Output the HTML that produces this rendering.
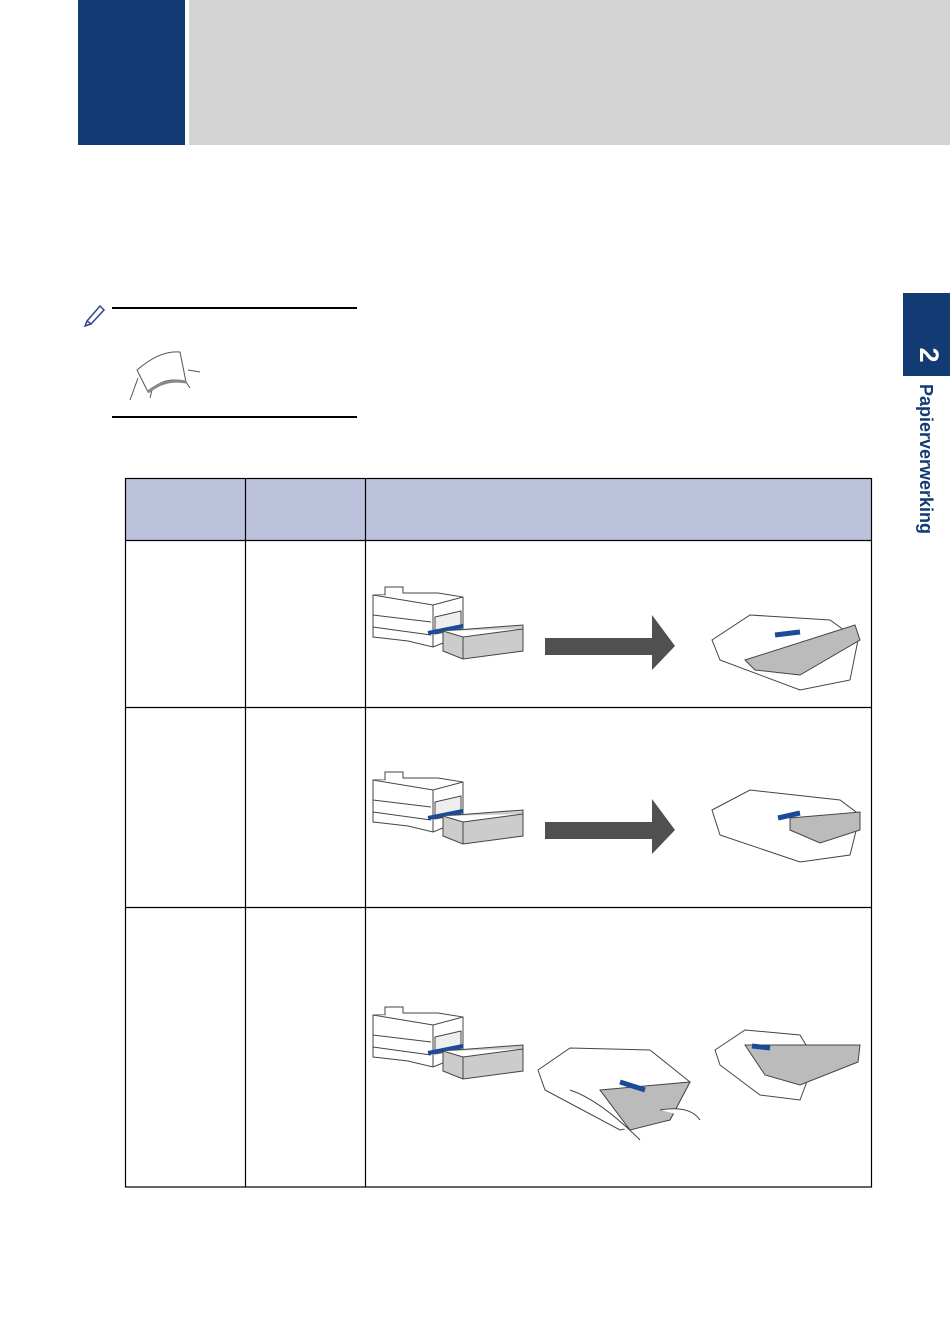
<!DOCTYPE html>
<html><head><meta charset="utf-8"><style>
html,body{margin:0;padding:0;background:#fff;}
body{width:950px;height:1341px;position:relative;overflow:hidden;font-family:"Liberation Sans",sans-serif;}
.abs{position:absolute;}
</style></head><body>
<div class="abs" style="left:78px;top:0;width:107px;height:145px;background:#123a73"></div>
<div class="abs" style="left:189px;top:0;width:761px;height:145px;background:#d4d4d4"></div>
<div class="abs" style="left:903px;top:293px;width:47px;height:83px;background:#123a73"></div>
<div class="abs" style="left:914px;top:340px;width:30px;height:30px;color:#fff;font-weight:bold;font-size:27px;line-height:30px;transform:rotate(90deg);text-align:center">2</div>
<div class="abs" style="left:846px;top:449px;width:160px;height:20px;color:#123a73;font-weight:bold;font-size:18px;line-height:20px;transform:rotate(90deg);transform-origin:center;text-align:center;white-space:nowrap">Papierverwerking</div>

<svg class="abs" style="left:0;top:0" width="950" height="1341" xmlns="http://www.w3.org/2000/svg">
<defs>
<g id="pr" fill="#fff" stroke="#444" stroke-width="1">
 <path d="M0,10 L12,10 L12,2 L30,2 L30,8 L65,8 L90,12 L90,50 L60,62 L35,56 L0,52 Z"/>
 <path d="M0,10 L60,20 L90,12 M60,20 L60,62 M0,30 L58,37 M0,42 L58,50"/>
 <path d="M62,32 L88,26 L88,44 L62,49 Z" fill="#eee"/>
 <path d="M55,48 L90,41" stroke="#1b4a9a" stroke-width="4"/>
 <path d="M70,46 L150,40 L150,66 L90,74 L70,66 Z" fill="#ccc"/>
 <path d="M70,46 L90,52 L150,44 M90,52 L90,74"/>
</g>
<g id="arr"><path d="M0,0 L107,0 L107,-23 L130,8 L107,32 L107,17 L0,17 Z" fill="#505050"/></g>
</defs>
<g fill="none" stroke="#000">
<line x1="112" y1="308" x2="357" y2="308" stroke-width="2"/>
<line x1="112" y1="417" x2="357" y2="417" stroke-width="2"/>
</g>
<path d="M87,321 L100,306 L104,310 L91,324 Z M87,321 L85,326 L91,324" fill="none" stroke="#34468a" stroke-width="1.5"/>
<path d="M137,370 Q160,350 180,352 L186,382 Q165,375 148,392 Z M130,400 L138,378 M150,398 L152,390 M188,370 L200,372 M186,382 L190,388" fill="#fff" stroke="#555" stroke-width="1"/>
<path d="M148,392 Q165,378 186,382" stroke="#888" stroke-width="3" fill="none"/>

<rect x="125" y="478" width="747" height="62" fill="#bcc2dc"/>
<g stroke="#000" stroke-width="1.2" fill="none">
<rect x="125.5" y="478.5" width="746" height="708.5"/>
<line x1="245.5" y1="478" x2="245.5" y2="1187"/>
<line x1="365.5" y1="478" x2="365.5" y2="1187"/>
<line x1="125" y1="540.5" x2="872" y2="540.5"/>
<line x1="125" y1="707.5" x2="872" y2="707.5"/>
<line x1="125" y1="907.5" x2="872" y2="907.5"/>
</g>

<use href="#pr" x="373" y="585"/>
<use href="#arr" x="545" y="638"/>
<g fill="#fff" stroke="#444">
<path d="M712,640 L750,615 L830,620 L858,640 L850,680 L800,690 L720,660 Z"/>
<path d="M745,660 L855,625 L860,640 L800,675 L755,670 Z" fill="#bbb"/>
<path d="M775,635 L800,632" stroke="#1b4a9a" stroke-width="5"/>
</g>

<use href="#pr" x="373" y="770"/>
<use href="#arr" x="545" y="822"/>
<g fill="#fff" stroke="#444">
<path d="M712,810 L750,790 L840,800 L860,815 L850,855 L800,862 L720,835 Z"/>
<path d="M790,818 L860,812 L860,830 L820,843 L790,830 Z" fill="#bbb"/>
<path d="M778,818 L800,813" stroke="#1b4a9a" stroke-width="5"/>
</g>

<use href="#pr" x="373" y="1005"/>
<g fill="#fff" stroke="#444">
<path d="M538,1070 L570,1048 L650,1050 L690,1082 L670,1120 L620,1130 L545,1090 Z"/>
<path d="M600,1090 L690,1082 L670,1120 L630,1130 Z" fill="#bbb"/>
<path d="M620,1082 L645,1090" stroke="#1b4a9a" stroke-width="5"/>
<path d="M570,1090 Q600,1100 640,1140 M660,1110 Q690,1105 700,1120"/>
<path d="M715,1050 L745,1030 L800,1035 L815,1060 L800,1100 L760,1095 L720,1065 Z"/>
<path d="M745,1045 L860,1045 L858,1062 L800,1085 L765,1075 Z" fill="#bbb"/>
<path d="M752,1046 L770,1048" stroke="#1b4a9a" stroke-width="5"/>
</g>
</svg>
</body></html>
